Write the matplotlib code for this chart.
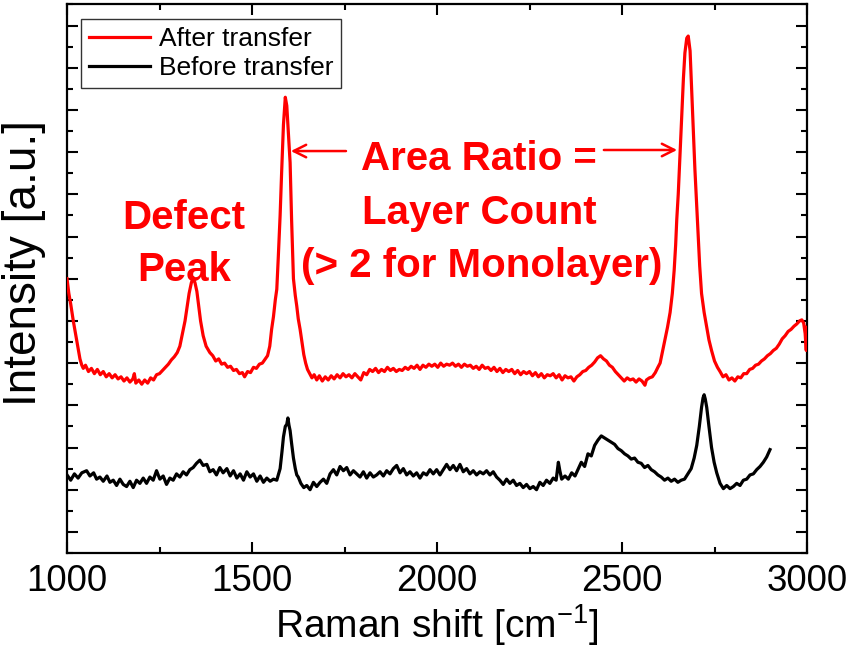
import matplotlib
matplotlib.use("Agg")
import matplotlib.pyplot as plt
from matplotlib.ticker import MultipleLocator, FixedLocator, NullFormatter

plt.rcParams['font.family'] = ['Liberation Sans', 'DejaVu Sans']
plt.rcParams['mathtext.default'] = 'regular'
plt.rcParams['axes.unicode_minus'] = False

# ---- data (y in arbitrary units) ----
after_x = [1000, 1005, 1010, 1017, 1022, 1026, 1031, 1035, 1040, 1044, 1050, 1058, 1066, 1074, 1082, 1090,
           1098, 1106, 1114, 1122, 1130, 1138, 1146, 1154, 1162, 1170, 1178, 1182, 1186, 1194, 1202, 1210,
           1218, 1226, 1234, 1242, 1250, 1258, 1266, 1274, 1282, 1290, 1298, 1305, 1312, 1319, 1325, 1330,
           1336, 1341, 1346, 1351, 1356, 1361, 1368, 1376, 1386, 1394, 1402, 1410, 1418, 1426, 1434, 1442,
           1450, 1458, 1466, 1474, 1480, 1488, 1496, 1504, 1512, 1520, 1528, 1536, 1542, 1548, 1553, 1558,
           1563, 1567, 1571, 1576, 1580, 1585, 1590, 1594, 1598, 1603, 1607, 1612, 1617, 1621, 1625, 1630,
           1635, 1640, 1645, 1650, 1656, 1662, 1668, 1675, 1682, 1690, 1698, 1706, 1714, 1722, 1730, 1738,
           1746, 1754, 1762, 1770, 1778, 1786, 1794, 1802, 1810, 1818, 1826, 1834, 1842, 1850, 1858, 1866,
           1874, 1882, 1890, 1898, 1906, 1914, 1922, 1930, 1938, 1946, 1954, 1962, 1970, 1978, 1986, 1994,
           2002, 2010, 2018, 2026, 2034, 2042, 2050, 2058, 2066, 2074, 2082, 2090, 2098, 2106, 2114, 2122,
           2130, 2138, 2146, 2154, 2162, 2170, 2178, 2186, 2194, 2202, 2210, 2218, 2226, 2234, 2242, 2250,
           2258, 2266, 2274, 2282, 2290, 2298, 2306, 2314, 2322, 2330, 2338, 2346, 2354, 2362, 2370, 2378,
           2386, 2394, 2402, 2410, 2418, 2426, 2434, 2442, 2450, 2458, 2466, 2474, 2482, 2490, 2498, 2506,
           2514, 2522, 2530, 2538, 2546, 2554, 2562, 2566, 2574, 2582, 2590, 2597, 2603, 2610, 2616, 2623,
           2630, 2636, 2641, 2645, 2648, 2652, 2655, 2661, 2666, 2670, 2675, 2679, 2684, 2688, 2692, 2697,
           2702, 2706, 2710, 2715, 2722, 2729, 2735, 2742, 2750, 2758, 2765, 2773, 2781, 2789, 2797, 2805,
           2813, 2821, 2829, 2837, 2845, 2853, 2861, 2869, 2877, 2885, 2893, 2901, 2909, 2917, 2925, 2933,
           2941, 2949, 2957, 2965, 2972, 2980, 2986, 2991, 2995, 2998, 3000]
after_y = [13.0, 12.3, 11.8, 11.0, 10.5, 10.1, 9.6, 9.2, 8.9, 8.75, 8.9, 8.6, 8.75, 8.5, 8.7, 8.45,
           8.6, 8.35, 8.5, 8.3, 8.45, 8.25, 8.35, 8.15, 8.3, 8.1, 8.25, 8.5, 8.05, 8.2, 8.0, 8.2,
           8.05, 8.3, 8.2, 8.45, 8.5, 8.65, 8.8, 8.95, 9.15, 9.3, 9.5, 9.8, 10.4, 11.0, 11.7, 12.3,
           12.8, 13.05, 12.8, 12.4, 11.7, 11.0, 10.3, 9.8, 9.5, 9.35, 9.1, 9.2, 8.95, 9.0, 8.8, 8.85,
           8.65, 8.7, 8.5, 8.55, 8.35, 8.6, 8.55, 8.8, 8.75, 8.95, 9.0, 9.2, 9.35, 9.8, 10.6, 11.2,
           12.0, 12.5, 14.0, 16.0, 18.0, 20.3, 21.6, 21.2, 20.0, 18.5, 15.8, 13.0, 12.2, 11.7, 11.1, 10.6,
           10.0, 9.4, 9.0, 8.7, 8.5, 8.3, 8.45, 8.2, 8.4, 8.15, 8.35, 8.2, 8.4, 8.25, 8.45, 8.3,
           8.5, 8.35, 8.45, 8.3, 8.5, 8.35, 8.2, 8.55, 8.45, 8.7, 8.6, 8.75, 8.55, 8.7, 8.6, 8.8,
           8.65, 8.75, 8.6, 8.7, 8.65, 8.8, 8.7, 8.85, 8.75, 8.9, 8.7, 8.9, 8.8, 8.95, 8.85, 8.95,
           8.8, 9.0, 8.85, 8.95, 8.9, 9.0, 8.85, 8.95, 8.8, 8.95, 8.85, 8.9, 8.75, 8.85, 8.7, 8.9,
           8.75, 8.8, 8.65, 8.8, 8.6, 8.75, 8.55, 8.7, 8.6, 8.7, 8.5, 8.65, 8.45, 8.6, 8.5, 8.6,
           8.4, 8.55, 8.35, 8.5, 8.3, 8.45, 8.4, 8.5, 8.3, 8.45, 8.2, 8.4, 8.3, 8.35, 8.15, 8.35,
           8.45, 8.6, 8.65, 8.8, 8.9, 9.05, 9.25, 9.35, 9.2, 9.1, 8.9, 8.8, 8.6, 8.45, 8.3, 8.15,
           8.3, 8.2, 8.25, 8.1, 8.25, 8.15, 7.95, 8.2, 8.3, 8.35, 8.55, 8.8, 9.0, 9.6, 10.1, 10.7,
           11.4, 12.3, 13.4, 14.6, 15.8, 17.0, 18.2, 20.5, 22.5, 23.7, 24.4, 24.5, 23.8, 22.1, 20.3, 18.2,
           16.4, 15.0, 13.6, 12.3, 11.4, 10.7, 10.1, 9.6, 9.1, 8.8, 8.6, 8.35, 8.45, 8.2, 8.3, 8.15,
           8.35, 8.3, 8.5, 8.5, 8.7, 8.75, 8.9, 8.95, 9.1, 9.2, 9.35, 9.45, 9.6, 9.7, 9.9, 10.15,
           10.3, 10.5, 10.6, 10.75, 10.85, 11.0, 11.05, 10.9, 10.4, 9.6, 10.7]

before_x = [1000, 1010, 1020, 1030, 1040, 1053, 1062, 1072, 1080, 1089, 1098, 1108, 1116, 1125, 1134, 1143,
            1152, 1161, 1170, 1179, 1188, 1197, 1206, 1215, 1224, 1233, 1242, 1251, 1260, 1269, 1278, 1287,
            1296, 1305, 1314, 1323, 1332, 1341, 1350, 1359, 1368, 1378, 1386, 1395, 1404, 1413, 1422, 1432,
            1441, 1450, 1459, 1468, 1477, 1486, 1495, 1504, 1513, 1522, 1531, 1540, 1549, 1558, 1567, 1576,
            1581, 1585, 1590, 1594, 1597, 1600, 1603, 1607, 1612, 1617, 1621, 1625, 1632, 1640, 1648, 1657,
            1666, 1675, 1684, 1693, 1702, 1711, 1720, 1729, 1738, 1747, 1756, 1765, 1774, 1783, 1792, 1801,
            1810, 1819, 1828, 1837, 1846, 1855, 1864, 1873, 1882, 1891, 1900, 1909, 1918, 1927, 1936, 1945,
            1954, 1963, 1972, 1981, 1990, 1999, 2008, 2017, 2026, 2035, 2044, 2053, 2062, 2071, 2080, 2089,
            2098, 2107, 2116, 2125, 2134, 2143, 2152, 2161, 2170, 2179, 2188, 2197, 2206, 2215, 2224, 2233,
            2242, 2251, 2260, 2269, 2278, 2287, 2296, 2305, 2314, 2322, 2328, 2332, 2337, 2346, 2355, 2364,
            2373, 2382, 2390, 2399, 2408, 2417, 2426, 2435, 2444, 2453, 2462, 2471, 2480, 2489, 2498, 2507,
            2516, 2525, 2534, 2543, 2552, 2561, 2570, 2579, 2588, 2597, 2606, 2615, 2624, 2633, 2642, 2651,
            2660, 2669, 2678, 2687, 2695, 2702, 2709, 2715, 2719, 2722, 2725, 2729, 2735, 2742, 2749, 2756,
            2765, 2774, 2783, 2792, 2801, 2810, 2819, 2828, 2837, 2846, 2855, 2864, 2873, 2882, 2891, 2900]
before_y = [3.70, 3.45, 3.75, 3.55, 3.80, 3.90, 3.65, 3.80, 3.50, 3.60, 3.40, 3.65, 3.35, 3.45, 3.20, 3.50,
            3.25, 3.15, 3.40, 3.10, 3.45, 3.30, 3.55, 3.30, 3.60, 3.45, 3.90, 3.50, 3.65, 3.25, 3.55, 3.45,
            3.75, 3.60, 3.85, 3.70, 3.95, 4.05, 4.25, 4.40, 4.15, 4.20, 3.85, 3.95, 3.70, 4.05, 3.80, 4.00,
            3.65, 3.90, 3.55, 3.75, 3.45, 3.85, 3.60, 3.75, 3.40, 3.65, 3.35, 3.55, 3.40, 3.50, 3.45, 4.00,
            4.80, 5.50, 6.00, 6.10, 6.40, 6.05, 5.80, 5.20, 4.50, 4.00, 3.70, 3.60, 3.30, 3.10, 3.20, 3.00,
            3.35, 3.15, 3.35, 3.50, 3.30, 3.75, 3.95, 3.70, 4.10, 3.90, 4.05, 3.70, 3.90, 3.75, 3.60, 3.85,
            3.55, 3.80, 3.60, 3.70, 3.85, 3.65, 3.90, 3.75, 4.00, 4.15, 3.80, 4.00, 3.70, 3.85, 3.65, 3.80,
            3.55, 3.80, 3.70, 3.95, 3.75, 3.95, 3.70, 3.95, 4.20, 3.95, 4.15, 3.90, 4.20, 3.85, 4.00, 3.75,
            3.90, 3.70, 3.85, 3.75, 3.90, 3.70, 3.85, 3.60, 3.45, 3.25, 3.50, 3.30, 3.45, 3.20, 3.30, 3.10,
            3.25, 3.05, 3.15, 3.00, 3.35, 3.20, 3.45, 3.30, 3.55, 3.45, 4.30, 3.90, 3.50, 3.65, 3.50, 3.80,
            3.65, 4.00, 4.30, 4.10, 4.70, 4.60, 5.10, 5.35, 5.55, 5.45, 5.35, 5.25, 5.15, 4.95, 4.85, 4.70,
            4.60, 4.45, 4.50, 4.30, 4.25, 4.05, 4.15, 3.95, 3.85, 3.70, 3.60, 3.45, 3.55, 3.40, 3.50, 3.35,
            3.45, 3.50, 3.75, 4.00, 4.50, 5.10, 6.00, 6.90, 7.35, 7.50, 7.30, 6.90, 6.00, 5.00, 4.30, 3.80,
            3.30, 3.05, 3.20, 3.05, 3.15, 3.30, 3.20, 3.45, 3.50, 3.70, 3.75, 3.95, 4.10, 4.30, 4.55, 4.90]

series_labels = ["After transfer", "Before transfer"]
x_ticks = [1000, 1500, 2000, 2500, 3000]
x_label = "Raman shift [cm$^{-1}$]"
y_label = "Intensity [a.u.]"

# ---- figure ----
fig = plt.figure(figsize=(8.57, 6.61), dpi=100)
ax = fig.add_axes([67/857, 1 - 553/661, 740/857, 548.6/661])

ax.plot(after_x, after_y, color="#ff0000", lw=2.3, label=series_labels[0], zorder=3)
ax.plot(before_x, before_y, color="black", lw=2.3, label=series_labels[1], zorder=3)

ax.set_xlim(1000, 3000)
ax.set_ylim(0, 26)
ax.xaxis.set_major_locator(FixedLocator(x_ticks))
ax.xaxis.set_minor_locator(MultipleLocator(250))
ax.yaxis.set_major_locator(FixedLocator(list(range(1, 26, 2))))
ax.yaxis.set_minor_locator(FixedLocator(list(range(0, 27, 2))))
ax.yaxis.set_major_formatter(NullFormatter())
ax.tick_params(axis="both", which="major", direction="in", length=8, width=1.5,
               top=True, right=True, labelsize=26.5, pad=8)
ax.tick_params(axis="both", which="minor", direction="in", length=4, width=1.5,
               top=True, right=True)
for s in ax.spines.values():
    s.set_linewidth(1.6)

ax.set_xlabel(x_label, fontsize=28, labelpad=2)
ax.set_ylabel(y_label, fontsize=33)
ax.yaxis.set_label_coords(-0.028, 0.528)

leg = ax.legend(loc="upper left", bbox_to_anchor=(0.019, 0.973), borderaxespad=0,
                fontsize=19, frameon=True, fancybox=False, edgecolor="black",
                handlelength=2.3, handletextpad=0.35, labelspacing=0.2, borderpad=0.3)
leg.get_frame().set_linewidth(1.0)

red = "#ff0000"
tk = dict(color=red, fontsize=29, fontweight="bold", ha="center", va="baseline")
ax.text(1316, 15.35, "Defect", **tk)
ax.text(1316, 12.9, "Peak", **tk)
ax.text(2112, 18.15, "Area Ratio =", **tk)
ax.text(2115, 15.6, "Layer Count", **tk)
ax.text(2122, 13.1, "(> 2 for Monolayer)", **tk)

arrow = dict(arrowstyle="->,head_length=0.9,head_width=0.45", color=red, lw=1.8,
             shrinkA=0, shrinkB=0)
ax.annotate("", xy=(1605, 19.05), xytext=(1754, 19.05), arrowprops=arrow)
ax.annotate("", xy=(2649, 19.1), xytext=(2451, 19.1), arrowprops=arrow)

fig.savefig("out.png", dpi=100)
